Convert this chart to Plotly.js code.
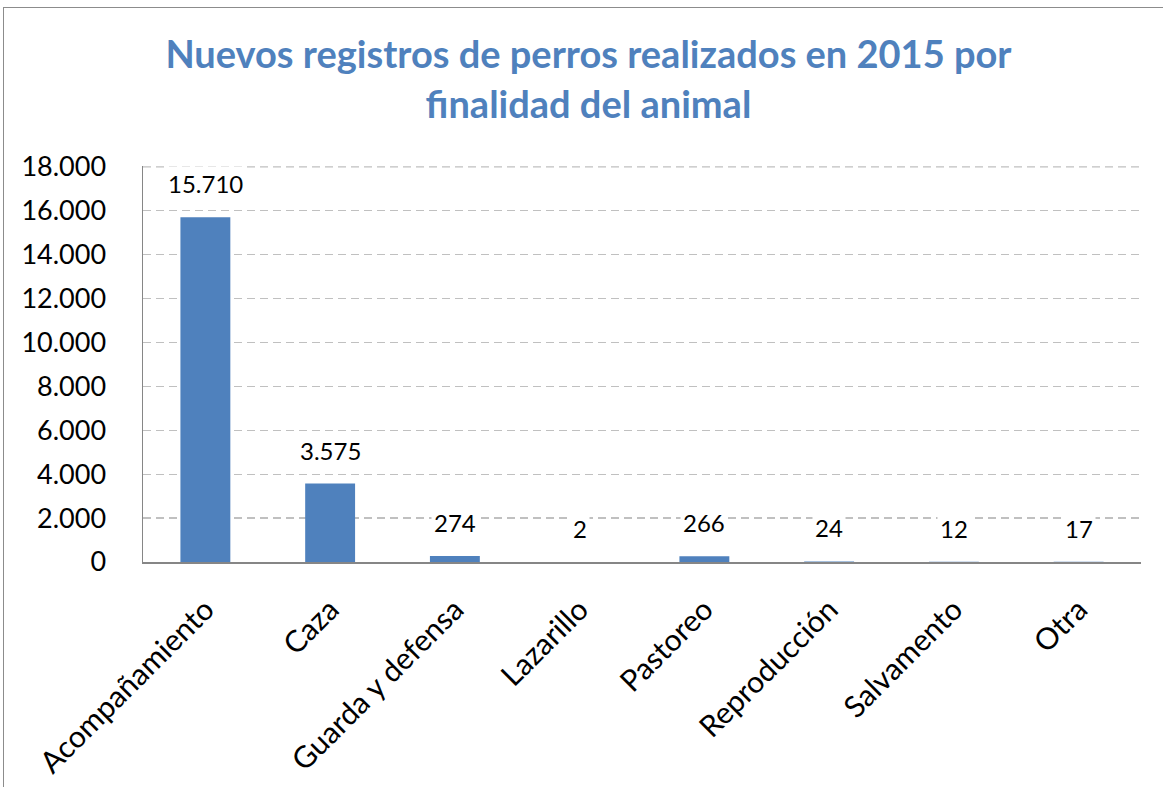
<!DOCTYPE html>
<html>
<head>
<meta charset="utf-8">
<script src="https://cdn.plot.ly/plotly-3.0.1.min.js"></script>
<style>
  html, body { margin: 0; padding: 0; background: #fff; }
  #chart { position: absolute; left: 0; top: 0; width: 1163px; height: 787px; }
  #frame { position: absolute; left: 3px; top: 7px; width: 1180px; height: 800px;
           border: 1px solid #8c8c8c; pointer-events: none; box-sizing: border-box; }
</style>
</head>
<body>
<div id="chart"></div>
<div id="frame"></div>
<script>
const categories = ["Acompañamiento", "Caza", "Guarda y defensa", "Lazarillo", "Pastoreo", "Reproducción", "Salvamento", "Otra"];
const values = [15710, 3575, 274, 2, 266, 24, 12, 17];
const tickValues = [0, 2000, 4000, 6000, 8000, 10000, 12000, 14000, 16000, 18000];

function fmt(n) {
  return String(n).replace(/\B(?=(\d{3})+(?!\d))/g, ".");
}

const trace = {
  type: "bar",
  x: categories,
  y: values,
  marker: { color: "#4F81BD" },
  hoverinfo: "x+y"
};

const annotations = categories.map((c, i) => ({
  x: c, y: values[i], xref: "x", yref: "y",
  text: fmt(values[i]),
  showarrow: false,
  yanchor: "bottom",
  yshift: 16,
  bgcolor: "#ffffff",
  borderpad: 2,
  font: { family: "Lato, sans-serif", size: 24, color: "#000000" }
}));

const yMax = tickValues[tickValues.length - 1];

const layout = {
  width: 1163, height: 787,
  paper_bgcolor: "#ffffff",
  plot_bgcolor: "#ffffff",
  margin: { l: 143, r: 22, t: 166, b: 225 },
  separators: ",.",
  bargap: 0.6,
  showlegend: false,
  title: {
    text: "<b>Nuevos registros de perros realizados en 2015 por<br>finalidad del animal</b>",
    font: { family: "Lato, sans-serif", size: 38, color: "#4F81BD" },
    x: 0.506, xanchor: "center",
    y: 0.913, yanchor: "middle"
  },
  xaxis: {
    type: "category",
    tickangle: -45,
    showgrid: false,
    showline: true,
    linecolor: "#868686",
    linewidth: 2,
    ticks: "",
    ticklabelstandoff: 16,
    tickfont: { family: "Lato, sans-serif", size: 30, color: "#000000" },
    fixedrange: true
  },
  yaxis: {
    range: [0, 18040],
    tickvals: tickValues,
    ticktext: tickValues.map(fmt),
    showgrid: true,
    gridcolor: "#c0c0c0",
    gridwidth: 1.3,
    griddash: "8px,5px",
    showline: true,
    linecolor: "#868686",
    linewidth: 1.5,
    ticks: "",
    zeroline: false,
    ticklabelstandoff: 30,
    tickfont: { family: "Lato, sans-serif", size: 27, color: "#000000" },
    fixedrange: true
  },
  shapes: [{
    type: "line", layer: "below",
    xref: "paper", yref: "y",
    x0: 0, x1: 1, y0: yMax, y1: yMax,
    line: { color: "#c0c0c0", width: 1.3, dash: "8px,5px" }
  }],
  annotations: annotations
};

Plotly.newPlot("chart", [trace], layout, { displayModeBar: false, staticPlot: true });
</script>
</body>
</html>
